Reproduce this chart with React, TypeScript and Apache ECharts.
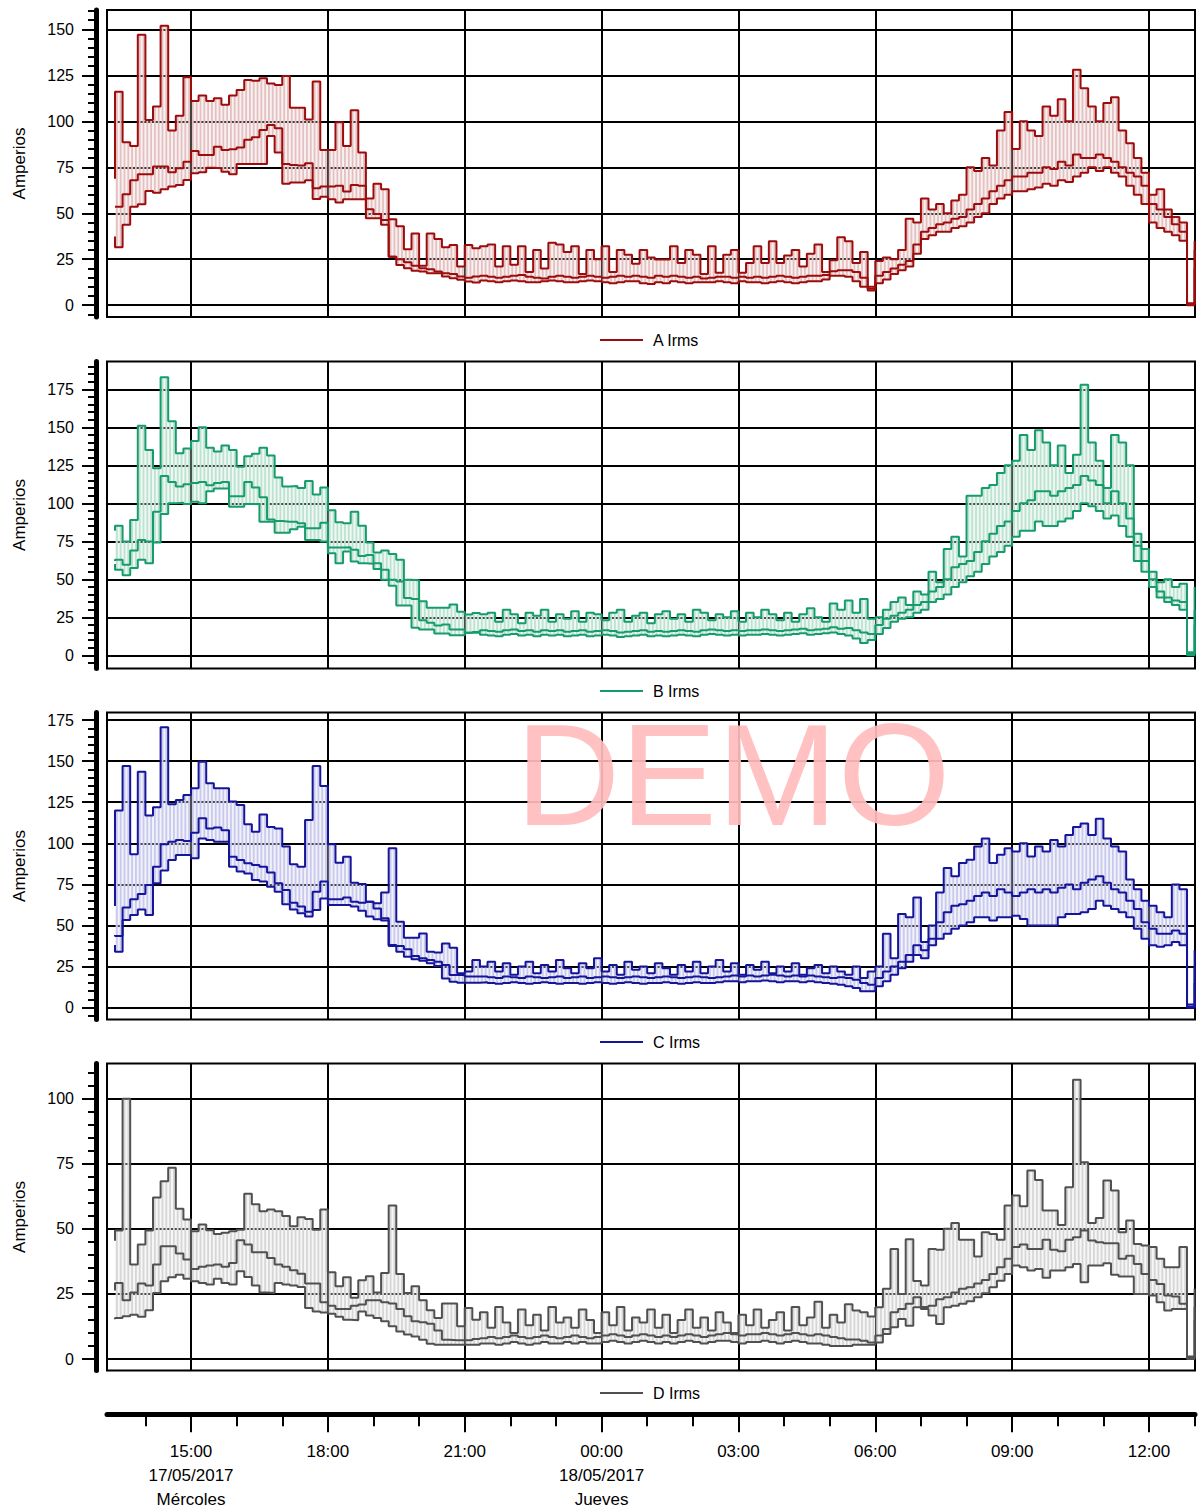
import React, { useEffect, useRef } from 'react';
import * as echarts from 'echarts';

// time in minutes from 17/05/2017 00:00; first point 13:20, 10-minute steps
const T0 = 800;
const STEP = 10;
const X_MIN = 789.5;
const X_MAX = 2220.5;

const majorHours = [900, 1080, 1260, 1440, 1620, 1800, 1980, 2160];
const minorHours = [840, 960, 1020, 1140, 1200, 1320, 1380, 1500, 1560, 1680, 1740, 1860, 1920, 2040, 2100, 2220];
const tickLabels = ['15:00\n17/05/2017\nMércoles', '18:00', '21:00', '00:00\n18/05/2017\nJueves', '03:00', '06:00', '09:00', '12:00'];

const yTicksA = [0, 25, 50, 75, 100, 125, 150];
const yTicksB = [0, 25, 50, 75, 100, 125, 150, 175];
const yTicksC = [0, 25, 50, 75, 100, 125, 150, 175];
const yTicksD = [0, 25, 50, 75, 100];

// each array: start stub, 142 ten-minute values, end stub
const aMax = [68.7,
  116, 88.6, 86.6, 147, 100.7, 108, 152, 95, 103, 124,
  111, 114, 111, 112.5, 109, 114, 117, 122.5, 122, 123.4,
  120.6, 119.7, 124.6, 107.4, 107.4, 101, 121.6, 84.4, 84.4, 99.5,
  86.6, 106, 83, 58, 66, 63, 46.7, 43, 30.4, 39,
  21.4, 39, 36, 31.5, 32.8, 21, 32.8, 31, 32, 33,
  21, 32, 22, 32, 18, 30, 20, 34, 33, 29,
  32, 17, 30, 25, 32, 18, 30, 27.5, 22.6, 30,
  26, 24.8, 24.8, 32, 23, 30, 27.5, 17, 32, 17.6,
  27.5, 30, 17.6, 23, 32, 23, 34.8, 23, 27, 30,
  21, 28, 33, 18, 24.5, 37, 34.8, 23, 29, 10,
  24, 26, 25, 30, 47, 45, 58, 52, 55, 50,
  57, 60, 75, 73, 80, 76, 95, 105, 85, 100,
  95, 92, 108, 103, 112, 100, 128, 118, 108, 100,
  110, 113, 95, 88, 80, 72, 60, 63, 52, 48,
  45, 1,
  35];
const aAvg = [53.6,
  53.6, 60.3, 68, 71.2, 71.2, 75.4, 75.4, 72.3, 74.5, 78,
  83.9, 81.7, 81.7, 86.2, 84.4, 84.8, 85.7, 89.9, 91.3, 95.3,
  98, 96.2, 76.8, 76.3, 75.9, 77.2, 63.6, 64.5, 64.5, 64.9,
  61.8, 65.4, 65, 52.2, 49.6, 46.4, 26.4, 25, 23.4, 21.4,
  20.1, 19.6, 18.3, 17.4, 17, 15.6, 15, 15.6, 16, 15.5,
  15, 15.5, 16, 16.5, 15.5, 15, 14.5, 15.5, 16, 15.5,
  15, 15.5, 16, 15.5, 15, 15.5, 16, 15.5, 16, 15.5,
  15, 16, 15.5, 16, 15.5, 15, 15.5, 14.5, 15, 15.5,
  15.5, 15, 15.5, 15, 15.5, 15, 15.5, 16, 15.5, 15,
  15.5, 16, 16, 16.5, 18.5, 19, 19, 18, 15, 9,
  16, 18, 20, 22, 24, 33, 40, 42, 44, 45,
  47, 48, 52, 55, 58, 62, 65, 68, 70, 70,
  72, 72, 75, 74, 78, 76, 82, 80, 80, 82,
  80, 78, 75, 72, 70, 65, 55, 52, 48, 44,
  40, 1,
  30];
const aMin = [37.3,
  31.5, 43.7, 53.6, 54.9, 62.1, 61.2, 63, 64.5, 65.4, 68.1,
  71.7, 72.3, 74.8, 74.5, 72.6, 71.2, 76.8, 76.8, 76.8, 76.8,
  92, 83, 66, 66.7, 66.7, 68, 57.8, 59, 57.6, 55.8,
  57.6, 57.6, 57.6, 47.3, 47.3, 43.7, 26.4, 21.9, 20.1, 18.8,
  18.3, 17.4, 17.4, 15.6, 14.7, 13.8, 12.9, 12.3, 13.5, 13,
  12.5, 13, 13.5, 13, 12.5, 12.5, 13, 13.5, 13, 12.5,
  12.5, 13, 13.5, 13, 12.5, 12, 12.5, 13, 13, 12,
  11.5, 12.5, 12, 13, 12.5, 12, 12.5, 12.5, 12.5, 13,
  12.5, 12, 13, 12.5, 12.5, 12, 12.5, 13, 12.5, 12,
  12.5, 13, 13, 14, 16, 16, 15.5, 13, 10, 8,
  12, 14, 17, 19, 21, 28, 36, 38, 40, 40,
  42, 43, 45, 48, 50, 55, 58, 60, 62, 62,
  63, 64, 66, 65, 68, 67, 70, 72, 75, 73,
  75, 72, 70, 65, 60, 55, 45, 42, 40, 38,
  35, 0,
  20];

const bMax = [82,
  85.3, 74.8, 89, 151, 135, 123, 183, 154, 133, 136,
  141, 150, 136.5, 134, 138, 135, 124, 131, 132.6, 136.5,
  131.5, 117, 111, 111.4, 110, 114.7, 105.8, 110.4, 95.5, 87.5,
  86.8, 94.4, 85.3, 74.2, 67.6, 69, 66.7, 62.8, 49.7, 49.3,
  35.5, 31.2, 31.2, 31.2, 33.4, 28.6, 26.8, 27.9, 27, 28,
  22, 30, 27, 21, 28, 26, 30, 22, 27, 24,
  29, 22, 28, 27, 23, 28, 30, 22, 26, 28,
  21, 27, 29, 24, 27, 22, 30, 28, 23, 27,
  25, 29, 22, 28, 25, 30, 27, 23, 28, 22,
  27, 31, 25, 22, 34, 30, 36, 28, 37, 24,
  25, 30, 35, 38, 33, 42, 40, 55, 48, 70,
  78, 65, 105, 105, 110, 112, 120, 125, 128, 145,
  135, 148, 140, 125, 138, 120, 132, 178, 140, 128,
  110, 145, 140, 125, 80, 70, 55, 48, 50, 45,
  47, 2,
  45];
const bAvg = [62,
  62.8, 59.5, 69, 75.9, 74.8, 94.4, 118, 114, 111, 112.5,
  113.4, 114, 111.9, 113.4, 114, 104.7, 104.7, 114, 110.4, 104,
  89.4, 88.3, 87.9, 87.9, 86.8, 83.5, 83.5, 87.2, 70.9, 70.9,
  71.1, 69.4, 65.4, 66, 60.6, 56.3, 49.7, 48.6, 37.7, 37,
  23.1, 21.4, 19.6, 20.3, 17, 17, 14.8, 15.3, 16.5, 16,
  15.5, 16.5, 17, 16, 16.5, 15.5, 16.5, 16, 16.5, 15.5,
  16, 16.5, 15.5, 16, 16.5, 16, 15, 15.5, 16, 16.5,
  15.5, 16, 15.5, 16, 16.5, 16, 15.5, 16.5, 17, 16.5,
  16, 16.5, 16, 16.5, 16.5, 17, 16.5, 16, 16.5, 17,
  17.5, 16.5, 17, 17.5, 18.5, 17.5, 18, 16.5, 15, 14,
  20, 24, 26, 28, 30, 33, 35, 42, 45, 50,
  58, 60, 62, 68, 75, 80, 85, 88, 95, 100,
  102, 108, 108, 105, 108, 110, 112, 118, 115, 112,
  100, 108, 100, 90, 72, 62, 50, 42, 38, 36,
  35, 1,
  30];
const bMin = [60,
  56.3, 52.6, 57.4, 62.8, 60.6, 74.2, 93, 100, 100.3, 99.5,
  101, 100, 108, 109.7, 109.7, 97.7, 97.7, 99.5, 99.5, 87.9,
  87.9, 80.7, 80.7, 82.9, 84.6, 75.9, 75.9, 74.8, 67.2, 60.6,
  68.3, 61.7, 60.6, 60.2, 56.7, 49.7, 45.8, 32.7, 32.7, 18.1,
  17, 17, 14.4, 14.4, 13.1, 13.1, 14.8, 14.8, 13.5, 13,
  12.5, 13.5, 14, 13, 13.5, 12.5, 13.5, 13, 13.5, 12.5,
  13, 13.5, 12.5, 13, 13.5, 13, 12, 12.5, 13, 13.5,
  12.5, 13, 12.5, 13, 13.5, 13, 12.5, 13.5, 14, 13.5,
  13, 13.5, 13, 13.5, 13.5, 14, 13.5, 13, 13.5, 14,
  14.5, 13.5, 14, 14.5, 15, 14, 13, 11, 8, 10,
  14, 18, 22, 24, 25, 28, 30, 35, 37, 40,
  45, 48, 52, 55, 60, 65, 68, 72, 78, 82,
  82, 88, 85, 85, 88, 90, 95, 100, 98, 95,
  90, 92, 85, 78, 62, 55, 45, 38, 35, 33,
  30, 0,
  20];

const cMax = [61.9,
  120, 147, 93.3, 143.6, 117, 122, 170.6, 123.7, 126.4, 129.4,
  133.5, 149.7, 136.5, 133.5, 133.5, 125.4, 123.3, 111.6, 107, 117.6,
  110, 109, 98, 87.2, 85.8, 114.2, 147, 134.9, 99.4, 88.2,
  91.9, 76, 75.3, 64.5, 63.5, 70, 97, 52.3, 42.6, 42.6,
  45.2, 34, 33.5, 39, 36.5, 21, 22, 29, 25, 28,
  22, 27, 20, 25, 28, 21, 26, 22, 29, 24,
  21, 27, 24, 30, 22, 26, 20, 28, 23, 25,
  21, 27, 24, 20, 26, 22, 28, 21, 25, 29,
  22, 27, 20, 26, 23, 28, 21, 25, 22, 27,
  20, 24, 26, 21, 25, 22, 20, 25, 18, 22,
  25, 45, 30, 57, 55, 67, 40, 50, 70, 85,
  80, 88, 90, 98, 103, 88, 93, 97, 95, 100,
  92, 98, 95, 102, 98, 105, 110, 112, 105, 115,
  103, 98, 95, 78, 72, 65, 62, 58, 55, 75,
  72, 2,
  35];
const cAvg = [44.2,
  43.6, 61, 66, 69.2, 74.6, 85.8, 99.4, 101, 102, 101.4,
  106.5, 115.2, 109, 109.7, 108, 91.9, 89.9, 87.8, 86.8, 85.8,
  82.2, 75.7, 71.6, 63.9, 61.5, 58.4, 70.6, 76.7, 66, 66,
  67, 64.5, 63.9, 64.5, 60.4, 54.4, 38.1, 37.5, 35.5, 31.4,
  30, 29, 28, 26, 19.9, 19.9, 18.9, 18.9, 19, 18.5,
  18, 19, 18.5, 18, 19, 18.5, 18, 18.5, 19, 18,
  18.5, 19, 18, 18.5, 19, 18.5, 18, 18.5, 19, 18.5,
  18, 18.5, 19, 18.5, 18, 18.5, 19, 18.5, 18, 18.5,
  19, 19.5, 19, 19.5, 19, 19.5, 20, 19.5, 19, 19.5,
  19, 19.5, 19, 18.5, 18, 18.5, 18, 17, 15, 14,
  18, 22, 25, 28, 32, 38, 35, 42, 52, 58,
  62, 63, 65, 68, 70, 68, 72, 70, 68, 70,
  72, 70, 72, 70, 73, 75, 72, 76, 78, 80,
  76, 72, 70, 65, 60, 52, 48, 45, 45, 47,
  45, 0.5,
  25];
const cMin = [38.1,
  34, 53.3, 56.4, 59.8, 56.4, 75.7, 83.4, 89.9, 92.9, 92.9,
  90.9, 103, 102, 101, 101, 85.8, 82.8, 81.7, 77.7, 76.7,
  73.6, 70.6, 63, 59.8, 57.4, 55.4, 59.4, 66.5, 62.5, 62.5,
  62.5, 61.5, 59, 55.4, 53.8, 53, 37.5, 34, 31, 29.4,
  28.6, 27, 25.4, 17.8, 15.8, 15.2, 15.2, 15.2, 15.5, 15,
  14.5, 15, 15.5, 15, 14.5, 15, 15.5, 15, 14.5, 15,
  15, 14.5, 15, 15.5, 15, 14.5, 15, 15.5, 15, 14.5,
  15, 15, 15.5, 15, 14.5, 15, 15.5, 15, 15, 15.5,
  16, 16, 15.5, 16, 16, 16.5, 16, 15.5, 16, 16,
  15.5, 16, 15.5, 15, 14.5, 14, 13, 12, 10, 10,
  13, 16, 20, 24, 28, 32, 30, 38, 42, 45,
  48, 50, 52, 55, 55, 53, 55, 55, 56, 54,
  50, 50, 50, 50, 55, 57, 57, 58, 60, 65,
  62, 60, 58, 55, 48, 42, 38, 37, 38, 40,
  38, 0,
  15];

const dMax = [45.4,
  49.4, 100, 36.3, 44, 49.4, 62, 68.3, 73.5, 57.7, 53.6,
  49.1, 51.7, 49.5, 48, 48.5, 49.1, 49.7, 63.5, 59.4, 56.8,
  57.4, 56.8, 54.9, 51, 54.5, 53.8, 49.7, 57.4, 33.3, 28,
  31.4, 23.5, 30.3, 31.8, 25.6, 33, 59, 32.7, 25.4, 28,
  22.6, 18.7, 15.8, 21.3, 21.3, 12.6, 19.6, 15.1, 18, 12,
  20, 14, 10, 19, 13, 17, 11, 20, 14, 16,
  12, 19, 15, 10, 18, 13, 20, 11, 16, 14,
  19, 12, 17, 10, 15, 19, 12, 16, 11, 18,
  14, 10, 17, 13, 19, 12, 15, 18, 11, 20,
  13, 16, 22, 12, 17, 14, 21, 18.6, 18, 16.3,
  19.9, 27, 42.3, 25, 46, 30, 28.2, 42.3, 42, 50,
  52.2, 45.8, 45.8, 39.4, 48.7, 48, 45.8, 59, 62.8, 58.7,
  72.4, 68.8, 57, 57, 51.5, 66, 107.3, 75.6, 52.2, 54.2,
  68.6, 64.7, 48.7, 53.2, 44.2, 43.6, 43, 38.5, 35.3, 35.3,
  43, 1,
  27];
const dAvg = [26.3,
  29.2, 22.6, 25.6, 29, 28.2, 36.3, 43.3, 43.3, 40.5, 38.2,
  34.6, 35.4, 35.9, 36.3, 35.4, 36.9, 45.6, 44, 41, 41,
  38.8, 36.3, 35.4, 34.1, 32.8, 29, 29, 21.8, 20.5, 19.2,
  19.2, 20.5, 20.9, 22.6, 22.6, 21.8, 21.3, 19.2, 16.4, 14.5,
  14.1, 13.6, 11, 7.4, 7.2, 7.2, 7.2, 7.7, 8, 8.5,
  8, 8.5, 9, 8.5, 8, 8.5, 9, 8.5, 8, 8.5,
  9, 8.5, 8, 8.5, 9, 9.5, 9, 8.5, 9, 9.5,
  9, 8.5, 9, 8.5, 9, 9.5, 9, 8.5, 9, 9.5,
  10, 9.5, 9, 9.5, 9.5, 10, 9.5, 9, 9.5, 10,
  9.5, 9, 9.5, 9, 8.5, 8, 7.5, 7.5, 7, 6.4,
  9, 11.5, 18, 19.2, 21.2, 23.7, 20, 20.5, 23, 23.7,
  25.6, 27, 27.6, 29, 30.4, 32.7, 35.3, 38.5, 43, 44,
  42.3, 42.3, 45.8, 42, 41.4, 45.8, 46.8, 49.4, 45.5, 44.9,
  44.5, 44.5, 38.5, 39.7, 36.5, 32.7, 30.4, 28.8, 24.4, 24,
  21.2, 0.6,
  20];
const dMin = [15.3,
  15.8, 16.4, 17, 16.2, 18.7, 25.4, 29.9, 31.4, 32.4, 30.8,
  29.9, 29.2, 28.6, 30.8, 29.2, 28.6, 33.7, 31.5, 28.2, 25.6,
  25.4, 29.2, 28.6, 28.2, 27.7, 19.6, 18.3, 17.9, 17.4, 16.2,
  15.1, 14.9, 18.3, 16.7, 15.8, 14.5, 12.6, 10.6, 9.4, 8.7,
  7.4, 5.9, 5.5, 5.5, 5.5, 5.5, 5.5, 5.5, 6, 6,
  5.5, 6, 6.5, 6, 5.5, 6, 6.5, 6, 6, 6.5,
  6, 6.5, 6, 6, 6.5, 7, 6.5, 6, 6.5, 7,
  6.5, 6, 6.5, 6, 6.5, 7, 6.5, 6, 6.5, 7,
  7, 6.5, 6, 6.5, 6.5, 7, 6.5, 6, 6.5, 7,
  6.5, 6, 6, 5.5, 5, 5, 5, 5.5, 5.5, 5.5,
  6.4, 9.6, 12.2, 15.4, 12.8, 19.9, 19.2, 16.7, 13.5, 19.9,
  20.5, 21.2, 22.2, 23.7, 25.3, 27.6, 30.1, 32.7, 35.9, 35.3,
  34, 34.6, 31.2, 34, 34, 35.3, 36.5, 29.5, 35.9, 35.9,
  36.8, 32.4, 31.7, 31.7, 25, 25, 24.4, 21.8, 18.6, 19.2,
  19.2, 0,
  15];

const FONT = "'Liberation Sans', Arial, sans-serif";

type Panel = {
  name: string; hi: number[]; mid: number[]; lo: number[];
  color: string; stripe: string; fill: string;
  yMin: number; yMax: number; ticks: number[]; top: number; legendTop: number;
};

const panels: Panel[] = [
  { name: 'A Irms', hi: aMax, mid: aAvg, lo: aMin, color: '#9c0c0c', stripe: '#e4c0c0', fill: 'rgba(236,205,205,0.3)', yMin: -6.4, yMax: 160.5, ticks: yTicksA, top: 10, legendTop: 332 },
  { name: 'B Irms', hi: bMax, mid: bAvg, lo: bMin, color: '#169c6c', stripe: '#bde2d2', fill: 'rgba(205,236,222,0.35)', yMin: -8.7, yMax: 193.3, ticks: yTicksB, top: 361.5, legendTop: 683 },
  { name: 'C Irms', hi: cMax, mid: cAvg, lo: cMin, color: '#15159a', stripe: '#c8c9ec', fill: 'rgba(215,215,242,0.35)', yMin: -7.2, yMax: 179.6, ticks: yTicksC, top: 712.5, legendTop: 1034 },
  { name: 'D Irms', hi: dMax, mid: dAvg, lo: dMin, color: '#505050', stripe: '#d6d6d6', fill: 'rgba(228,228,228,0.35)', yMin: -4.4, yMax: 113.5, ticks: yTicksD, top: 1063.5, legendTop: 1385 },
];

const pts = (arr: number[]) => arr.map((v, k) => [T0 + STEP * Math.min(k, 142), v]);
const bandData = (lo: number[], hi: number[]) => lo.slice(1, 143).map((v, i) => [T0 + STEP * i, v, hi[i + 1]]);
const minorOf = (min: number, max: number) => {
  const out: number[] = [];
  for (let v = Math.ceil(min / 5) * 5; v <= max; v += 5) if (v % 25 !== 0) out.push(v);
  return out;
};

function buildOption() {
  const grid: any[] = panels.map((p) => ({
    left: 107, width: 1088, top: p.top, height: 307, show: true,
    borderColor: '#000', borderWidth: 2, backgroundColor: 'transparent',
  }));
  grid.push({ left: 107, width: 1088, top: 1414, height: 1, show: false });

  const xAxis: any[] = panels.map((p, gi) => ({
    type: 'value', gridIndex: gi, min: X_MIN, max: X_MAX,
    axisLine: { show: false },
    axisTick: { show: false, customValues: majorHours },
    axisLabel: { show: false, customValues: majorHours },
    splitLine: { show: true, lineStyle: { color: '#000', width: 2 } },
  }));
  xAxis.push({
    type: 'value', gridIndex: 4, min: X_MIN, max: X_MAX, position: 'bottom',
    axisLine: { show: true, lineStyle: { color: '#000', width: 5 } },
    axisTick: { show: true, customValues: majorHours, length: 18, lineStyle: { color: '#000', width: 2 } },
    axisLabel: {
      show: true, customValues: majorHours, margin: 25, fontSize: 17, lineHeight: 24,
      fontFamily: FONT, color: '#000',
      formatter: (v: number) => tickLabels[majorHours.indexOf(v)] ?? '',
    },
    splitLine: { show: false },
  });
  xAxis.push({
    type: 'value', gridIndex: 4, min: X_MIN, max: X_MAX, position: 'bottom',
    axisLine: { show: false },
    axisTick: { show: true, customValues: minorHours, length: 12, lineStyle: { color: '#000', width: 2 } },
    axisLabel: { show: false },
    splitLine: { show: false },
  });

  const yAxis: any[] = [];
  panels.forEach((p, gi) => {
    yAxis.push({
      type: 'value', gridIndex: gi, min: p.yMin, max: p.yMax, position: 'left', offset: 11,
      name: 'Amperios', nameLocation: 'middle', nameGap: 68, nameRotate: 90,
      nameTextStyle: { fontSize: 17, fontFamily: FONT, color: '#000' },
      axisLine: { show: true, lineStyle: { color: '#000', width: 5 } },
      axisTick: { show: true, customValues: p.ticks, length: 14, lineStyle: { color: '#000', width: 2 } },
      axisLabel: { show: true, customValues: p.ticks, margin: 22, fontSize: 16, fontFamily: FONT, color: '#000' },
      splitLine: { show: true, lineStyle: { color: '#000', width: 2 } },
    });
    yAxis.push({
      type: 'value', gridIndex: gi, min: p.yMin, max: p.yMax, position: 'left', offset: 11,
      axisLine: { show: false },
      axisTick: { show: true, customValues: minorOf(p.yMin, p.yMax), length: 8, lineStyle: { color: '#000', width: 2 } },
      axisLabel: { show: false },
      splitLine: { show: false },
    });
  });
  yAxis.push({ type: 'value', gridIndex: 4, min: 0, max: 1, show: false });

  const series: any[] = [];
  panels.forEach((p, gi) => {
    series.push({
      type: 'custom', name: p.name + ' rango', xAxisIndex: gi, yAxisIndex: gi * 2, silent: true, z: 2,
      data: bandData(p.lo, p.hi),
      encode: { x: 0, y: [1, 2] },
      renderItem: (_params: any, api: any) => {
        const t = api.value(0) as number;
        const lo = api.value(1) as number;
        const hi = api.value(2) as number;
        const a = api.coord([t, hi]);
        const b = api.coord([t + STEP, lo]);
        const w = b[0] - a[0];
        const h = b[1] - a[1];
        const children: any[] = [
          { type: 'rect', shape: { x: a[0], y: a[1], width: w, height: h }, style: { fill: p.fill } },
        ];
        [0.25, 0.75].forEach((f) => {
          children.push({
            type: 'line',
            shape: { x1: a[0] + w * f, y1: a[1], x2: a[0] + w * f, y2: b[1] },
            style: { stroke: p.stripe, lineWidth: 1.8 },
          });
        });
        return { type: 'group', children };
      },
    });
    const line = (name: string, arr: number[]) => ({
      type: 'line', name, xAxisIndex: gi, yAxisIndex: gi * 2, step: 'start', z: 3,
      showSymbol: false, symbol: 'none', silent: true,
      data: pts(arr),
      lineStyle: { color: p.color, width: 2 },
      itemStyle: { color: p.color },
    });
    series.push(line(p.name + ' máx', p.hi));
    series.push(line(p.name + ' mín', p.lo));
    series.push(line(p.name, p.mid));
  });

  const legend = panels.map((p) => ({
    data: [p.name], top: p.legendTop, left: 600, icon: 'rect', itemWidth: 43, itemHeight: 2,
    padding: 0, selectedMode: false,
    textStyle: { fontSize: 16, fontFamily: FONT, color: '#000', padding: [0, 0, 0, 5] },
  }));

  return {
    animation: false,
    backgroundColor: '#fff',
    textStyle: { fontFamily: FONT },
    grid, xAxis, yAxis, series, legend,
    graphic: [{
      type: 'text', x: 733, y: 775, z: 100, silent: true,
      style: { text: 'DEMO', font: '145px ' + FONT, fill: '#ffbcbc', textAlign: 'center', textVerticalAlign: 'middle', opacity: 0.92 },
    }],
  };
}

export default function App() {
  const ref = useRef<HTMLDivElement>(null);
  useEffect(() => {
    if (!ref.current) return;
    const chart = echarts.init(ref.current, undefined, { renderer: 'svg' });
    chart.setOption(buildOption() as any);
    return () => chart.dispose();
  }, []);
  return <div ref={ref} style={{ position: 'absolute', left: 0, top: 0, width: 1199, height: 1511, background: '#fff' }} />;
}
